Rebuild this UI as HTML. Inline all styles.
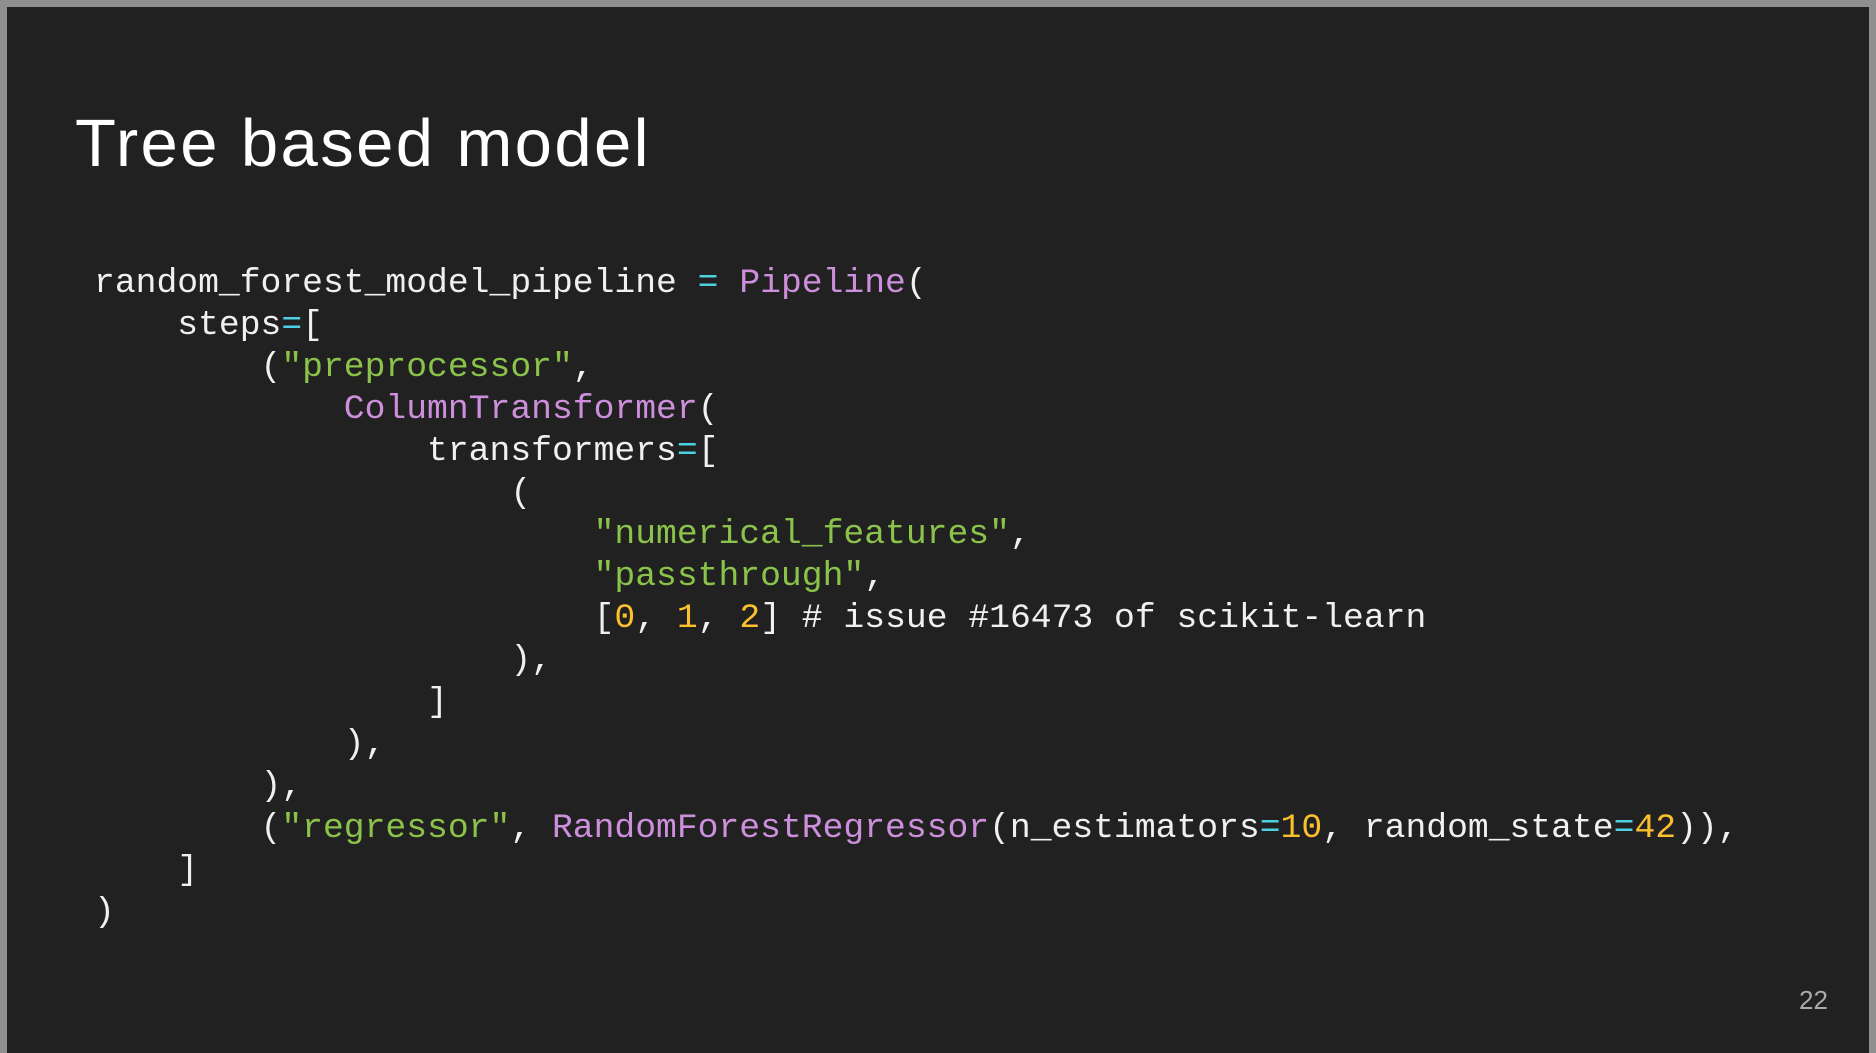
<!DOCTYPE html>
<html><head><meta charset="utf-8"><style>
html,body{margin:0;padding:0;width:1876px;height:1053px;overflow:hidden;background:#8f8f8f;}
.slide{position:absolute;left:7px;top:7px;width:1862px;height:1046px;background:#212121;}
h1{position:absolute;left:68px;top:103px;margin:0;font:400 67px "Liberation Sans",sans-serif;color:#fff;letter-spacing:2.4px;line-height:1;}
pre{position:absolute;left:87px;top:256px;margin:0;font:400 34.7px/41.9px "Liberation Mono",monospace;color:#f0f0f0;}
.p{color:#cd8fdb}.g{color:#8bc34a}.c{color:#4dd0e1}.y{color:#fbc02d}
.n{position:absolute;left:1792px;top:978px;font:400 26px "Liberation Sans",sans-serif;color:#aaa;}
</style></head><body><div class="slide">
<h1>Tree based model</h1>
<pre>random_forest_model_pipeline <span class="c">=</span> <span class="p">Pipeline</span>(
    steps<span class="c">=</span>[
        (<span class="g">"preprocessor"</span>,
            <span class="p">ColumnTransformer</span>(
                transformers<span class="c">=</span>[
                    (
                        <span class="g">"numerical_features"</span>,
                        <span class="g">"passthrough"</span>,
                        [<span class="y">0</span>, <span class="y">1</span>, <span class="y">2</span>] # issue #16473 of scikit-learn
                    ),
                ]
            ),
        ),
        (<span class="g">"regressor"</span>, <span class="p">RandomForestRegressor</span>(n_estimators<span class="c">=</span><span class="y">10</span>, random_state<span class="c">=</span><span class="y">42</span>)),
    ]
)</pre>
<div class="n">22</div>
</div></body></html>
